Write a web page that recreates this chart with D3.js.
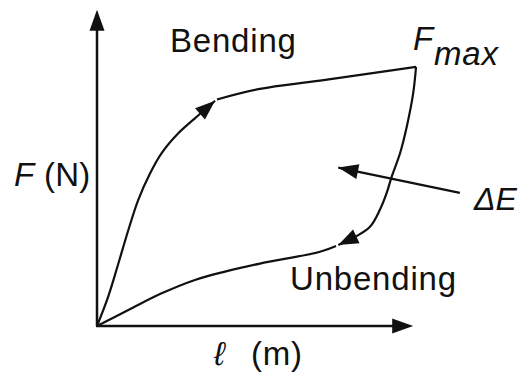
<!DOCTYPE html>
<html>
<head>
<meta charset="utf-8">
<script src="https://cdn.jsdelivr.net/npm/d3@7"></script>
<style>
  html, body { margin: 0; padding: 0; background: #ffffff; }
  svg { display: block; }
  text { font-family: "Liberation Sans", Arial, Helvetica, sans-serif; fill: #111; }
</style>
</head>
<body>
<svg id="chart" width="520" height="376"></svg>
<script>
// Force–length hysteresis loop of a bending / unbending cycle (arbitrary units).
const lengthDomain = [0, 100];
const forceDomain = [0, 100];
const axisEnd = { length: 98.8, force: 98.8 };

// Bending branch: steep rise (ends in an arrow) then the flat approach to F_max.
const bendingRise = [
  [0, 0], [3.5, 9.2], [6.7, 19.6], [9.8, 30.0], [12.9, 39.4], [16.6, 47.7],
  [20.2, 54.0], [25.4, 60.2], [30.6, 64.9], [36.9, 70.4]
];
const bendingPlateau = [
  [37.5, 70.8], [50.9, 74.1], [69.7, 76.7], [99.7, 81.0]
];

// Unbending branch: steep drop from F_max (ends in an arrow) then back to the origin.
const unbendingDrop = [
  [99.7, 81.0], [98.8, 72.7], [96.8, 62.3], [94.7, 54.0], [92.1, 46.7],
  [90.5, 41.5], [88.4, 36.3], [85.3, 31.0], [80.6, 27.8], [75.4, 25.3]
];
const unbendingReturn = [
  [74.7, 25.0], [69.7, 23.2], [50.9, 19.5], [40.0, 17.0], [30.6, 14.4],
  [20.2, 10.2], [9.8, 5.0], [0, 0]
];

// Pointer to the enclosed area (dissipated energy ΔE).
const energyPointer = [[113.4, 41.6], [75.4, 49.5]];

const svg = d3.select("#chart");
const x = d3.scaleLinear().domain(lengthDomain).range([97, 417]);
const y = d3.scaleLinear().domain(forceDomain).range([326, 6]);

const ink = "#111";
const line = d3.line().x(d => x(d[0])).y(d => y(d[1])).curve(d3.curveCatmullRom.alpha(0.5));

function arrowHead(tip, from, len, wid) {
  const tx = x(tip[0]), ty = y(tip[1]);
  const fx = x(from[0]), fy = y(from[1]);
  const dx = tx - fx, dy = ty - fy;
  const n = Math.hypot(dx, dy);
  const ux = dx / n, uy = dy / n;
  const bx = tx - ux * len, by = ty - uy * len;
  const px = -uy * wid / 2, py = ux * wid / 2;
  svg.append("path")
    .attr("d", `M${tx},${ty}L${bx + px},${by + py}L${bx - px},${by - py}Z`)
    .attr("fill", ink);
}

// Axes
svg.append("line")
  .attr("x1", x(0)).attr("y1", y(0)).attr("x2", x(0)).attr("y2", y(axisEnd.force) + 10)
  .attr("stroke", ink).attr("stroke-width", 2.5);
arrowHead([0, axisEnd.force], [0, 0], 21, 15);
svg.append("line")
  .attr("x1", x(0) - 1).attr("y1", y(0)).attr("x2", x(axisEnd.length) - 10).attr("y2", y(0))
  .attr("stroke", ink).attr("stroke-width", 2.5);
arrowHead([axisEnd.length, 0], [0, 0], 21, 15);

// Loop branches
[bendingRise, bendingPlateau, unbendingDrop, unbendingReturn].forEach(seg => {
  svg.append("path")
    .attr("d", line(seg))
    .attr("fill", "none")
    .attr("stroke", ink)
    .attr("stroke-width", 2.2)
    .attr("stroke-linejoin", "round");
});
arrowHead(bendingRise[bendingRise.length - 1], bendingRise[bendingRise.length - 2], 20, 15);
arrowHead(unbendingDrop[unbendingDrop.length - 1], unbendingDrop[unbendingDrop.length - 2], 20, 15);

// ΔE pointer
svg.append("line")
  .attr("x1", x(energyPointer[0][0])).attr("y1", y(energyPointer[0][1]))
  .attr("x2", x(energyPointer[1][0])).attr("y2", y(energyPointer[1][1]))
  .attr("stroke", ink).attr("stroke-width", 2.2);
arrowHead(energyPointer[1], energyPointer[0], 20, 15);

// Labels
const label = (tx, ty, str) => svg.append("text")
  .attr("x", tx).attr("y", ty)
  .attr("font-size", 33).attr("letter-spacing", 0.8)
  .text(str);

label(170, 52, "Bending");
label(290, 290, "Unbending");

const fmax = svg.append("text").attr("x", 413).attr("y", 50)
  .attr("font-size", 33).attr("font-style", "italic").attr("letter-spacing", 0.8);
fmax.append("tspan").text("F");
fmax.append("tspan").attr("x", 434).attr("dy", 15).text("max");

svg.append("text").attr("x", 474).attr("y", 210)
  .attr("font-size", 32).attr("font-style", "italic")
  .text("ΔE");

const fLabel = svg.append("text").attr("x", 14).attr("y", 186)
  .attr("font-size", 33).attr("letter-spacing", 0.3);
fLabel.append("tspan").attr("font-style", "italic").text("F");
fLabel.append("tspan").text(" (N)");

svg.append("text").attr("x", 214).attr("y", 365)
  .attr("font-size", 33).attr("font-style", "italic")
  .text("ℓ");
svg.append("text").attr("x", 251).attr("y", 365)
  .attr("font-size", 33).attr("letter-spacing", 0.8)
  .text("(m)");
</script>
</body>
</html>
